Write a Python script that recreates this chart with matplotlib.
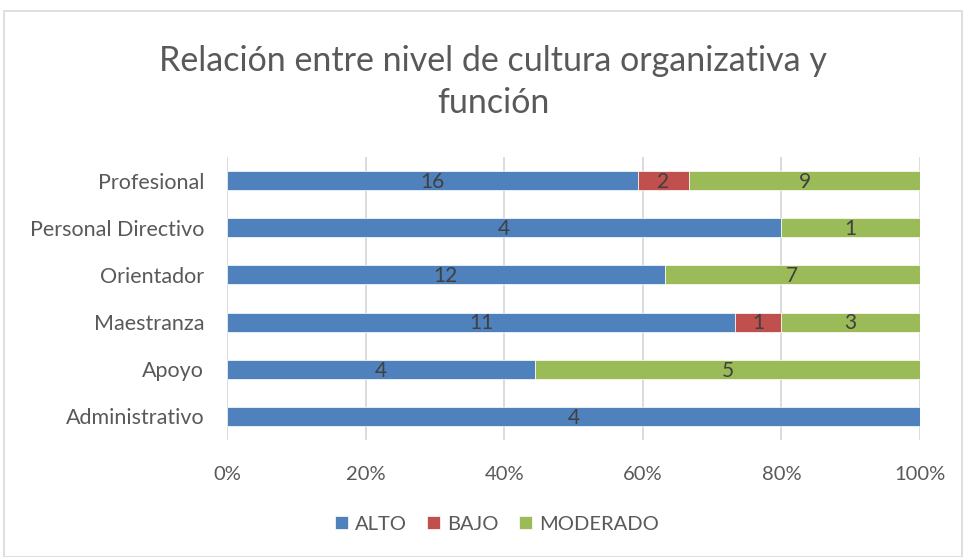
import matplotlib
matplotlib.use("Agg")
import matplotlib.pyplot as plt
import numpy as np
from matplotlib.patches import Rectangle

categories = ["Administrativo", "Apoyo", "Maestranza", "Orientador", "Personal Directivo", "Profesional"]
alto = [4, 4, 11, 12, 4, 16]
bajo = [0, 0, 1, 0, 0, 2]
moderado = [0, 5, 3, 7, 1, 9]
series_names = ["ALTO", "BAJO", "MODERADO"]
colors = ["#4F81BD", "#C0504D", "#9BBB59"]
xticklabels = ["0%", "20%", "40%", "60%", "80%", "100%"]
title = "Relación entre nivel de cultura organizativa y\nfunción"

plt.rcParams['font.family'] = ['Lato', 'DejaVu Sans']
txt = "#595959"

fig = plt.figure(figsize=(9.63, 5.57), dpi=100)
ax = fig.add_axes([227/963, 1-440/557, (920-227)/963, (440-157)/557])

data = np.array([alto, bajo, moderado], dtype=float)
totals = data.sum(axis=0)
pct = data / totals
y = np.arange(len(categories))
left = np.zeros(len(categories))
for i in range(3):
    ax.barh(y, pct[i], left=left, height=0.4, color=colors[i], label=series_names[i], zorder=3,
            edgecolor="white", linewidth=0.5)
    for j in range(len(categories)):
        if data[i, j] > 0:
            ax.text(left[j] + pct[i, j] / 2, y[j] - 0.03, f"{int(data[i, j])}", ha="center", va="center",
                    fontsize=15, color="#404040", zorder=4)
    left += pct[i]

ax.set_xlim(0, 1)
ax.set_ylim(-0.5, len(categories) - 0.5)
ax.set_xticks(np.linspace(0, 1, 6))
ax.set_xticklabels(xticklabels)
ax.set_yticks(y)
ax.set_yticklabels(categories)
ax.tick_params(axis="y", length=0, labelsize=15.5, colors=txt, pad=16.5)
ax.tick_params(axis="x", length=0, labelsize=14.5, colors=txt, pad=19)
ax.grid(axis="x", color="#D9D9D9", linewidth=1.3, zorder=0)
for s in ax.spines.values():
    s.set_visible(False)

fig.text(493/963, 1-82/557, title, ha="center", va="center", fontsize=24.5, color=txt, linespacing=1.35)

handles, labels = ax.get_legend_handles_labels()
leg = fig.legend(handles, labels, loc="center", bbox_to_anchor=(497/963, 1-524/557), ncol=3, frameon=False,
                 fontsize=14.5, handlelength=0.65, handleheight=0.65, handletextpad=0.35, columnspacing=1.0)
for t in leg.get_texts():
    t.set_color(txt)

fig.patches.append(Rectangle((4/963, 0), 1-4/963-0.001, 1-11/557, transform=fig.transFigure,
                             fill=False, edgecolor="#D9D9D9", linewidth=1.2))

fig.savefig("out.png", dpi=100)
